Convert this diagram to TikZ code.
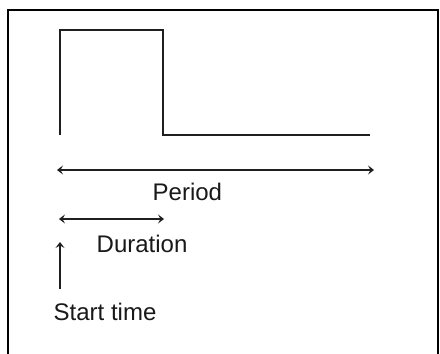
\documentclass[tikz,border=0pt]{standalone}
\usepackage{fontspec}
\setmainfont{Liberation Sans}
\usetikzlibrary{arrows.meta}
\begin{document}
\begin{tikzpicture}[x=1pt,y=-1pt,
  wave/.style={line width=2pt,draw=black!88},
  tip/.style={},
  dimarrow/.style={line width=1.8pt,draw=black!88,{Stealth[length=6pt,width=9pt,inset=2.5pt]}-{Stealth[length=6pt,width=9pt,inset=2.5pt]}},
  uparrow/.style={line width=1.8pt,draw=black!88,-{Stealth[length=6pt,width=9pt,inset=2.5pt]}},
  lbl/.style={anchor=base west,inner sep=0pt,font=\fontsize{24}{28}\selectfont,text=black!90}]
\useasboundingbox (0,0) rectangle (440,354);
\fill[white] (0,0) rectangle (440,354);
% frame
\draw[line width=2pt,black] (8,356) -- (8,10) -- (438,10) -- (438,356);
% waveform
\coordinate (w0) at (60,135);
\coordinate (w1) at (60,30);
\coordinate (w2) at (163,30);
\coordinate (w3) at (163,135);
\coordinate (w4) at (370,135);
\draw[wave] (w0) -- (w1) -- (w2) -- (w3) -- (w4);
% period
\coordinate (pa) at (57,170);
\coordinate (pb) at (374,170);
\draw[dimarrow] (pa) -- (pb);
\node[lbl] (period) at (152.5,200.5) {Period};
% duration
\coordinate (da) at (59,219);
\coordinate (db) at (164,219);
\draw[dimarrow] (da) -- (db);
\node[lbl] (duration) at (96.5,252) {Duration};
% start
\coordinate (sa) at (60,289);
\coordinate (sb) at (60,242);
\draw[uparrow] (sa) -- (sb);
\node[lbl] (start) at (53.5,320) {Start time};
\end{tikzpicture}
\end{document}
